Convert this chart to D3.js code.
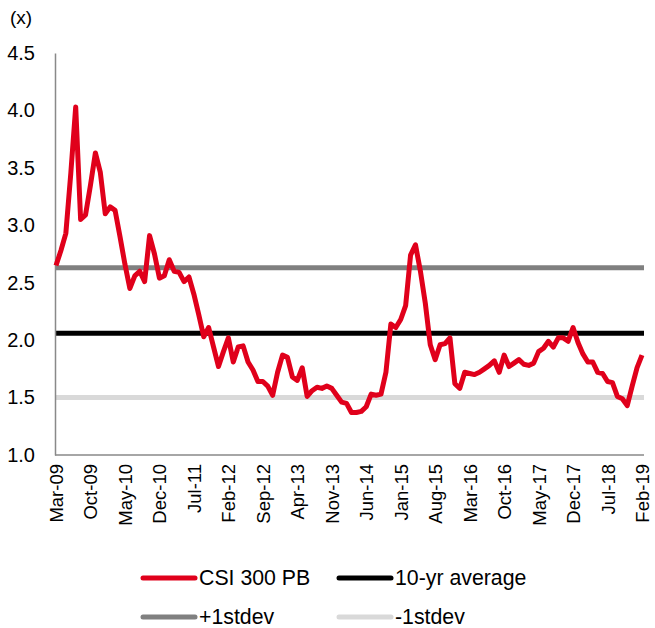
<!DOCTYPE html>
<html><head><meta charset="utf-8">
<script src="https://cdn.jsdelivr.net/npm/d3@7"></script>
<style>body{margin:0;background:#fff}svg{display:block}text{font-family:"Liberation Sans",Arial,sans-serif;fill:#000}</style>
</head><body><svg id="c" width="655" height="628"></svg>
<script>
const months = ["Jan","Feb","Mar","Apr","May","Jun","Jul","Aug","Sep","Oct","Nov","Dec"];
// 120 monthly observations, Mar-09 .. Feb-19
const categories = d3.range(120).map(i => {
  const m = (2 + i) % 12, y = 9 + Math.floor((2 + i) / 12);
  return months[m] + "-" + String(y).padStart(2, "0");
});
const csiPB = [
  2.65,2.78,2.93,3.45,4.03,3.05,3.09,3.35,3.63,3.46,3.10,3.16,3.13,2.90,2.66,2.45,2.56,2.60,2.51,2.91,
  2.75,2.54,2.56,2.70,2.60,2.59,2.51,2.55,2.40,2.22,2.03,2.11,1.94,1.77,1.90,2.02,1.81,1.94,1.95,1.81,
  1.74,1.64,1.64,1.60,1.52,1.72,1.87,1.85,1.68,1.65,1.76,1.51,1.56,1.59,1.58,1.60,1.58,1.52,1.46,1.45,
  1.37,1.37,1.38,1.42,1.53,1.52,1.53,1.72,2.14,2.11,2.18,2.30,2.74,2.83,2.60,2.32,1.96,1.83,1.96,1.97,
  2.02,1.62,1.58,1.72,1.71,1.70,1.72,1.75,1.78,1.82,1.72,1.87,1.77,1.80,1.83,1.79,1.78,1.80,1.90,1.93,
  1.99,1.94,2.02,2.02,1.99,2.11,1.98,1.88,1.81,1.81,1.72,1.71,1.64,1.63,1.51,1.49,1.43,1.60,1.76,1.87
];
const avg10 = 2.06, plus1 = 2.63, minus1 = 1.50;
const yTicks = [1.0,1.5,2.0,2.5,3.0,3.5,4.0,4.5];
const xTickLabels = categories.filter((d, i) => i % 7 === 0);
const seriesNames = ["CSI 300 PB","10-yr average","+1stdev","-1stdev"];
const seriesColors = ["#E0001B","#000000","#808080","#D9D9D9"];

const svg = d3.select("#c");
const L = 55, R = 644, T = 53, B = 455;
const x = d3.scalePoint().domain(categories).range([L + 1, R - 2]);
const y = d3.scaleLinear().domain([1.0, 4.5]).range([B, T]);

// reference lines
[[plus1,2],[avg10,1],[minus1,3]].forEach(([v,ci]) => {
  svg.append("line").attr("x1", L).attr("x2", R).attr("y1", y(v)).attr("y2", y(v))
    .attr("stroke", seriesColors[ci]).attr("stroke-width", 5);
});

// axes
const yAxis = svg.append("g").attr("transform", `translate(${L},0)`)
  .call(d3.axisLeft(y).tickValues(yTicks).tickFormat(d3.format(".1f")).tickSize(0).tickPadding(20));
yAxis.select(".domain").attr("stroke", "#898989").attr("stroke-width", 1.5);
yAxis.selectAll("text").attr("font-size", 20).style("font-family", '"Liberation Sans",Arial,sans-serif').attr("fill", "#000");

const xAxis = svg.append("g").attr("transform", `translate(0,${B})`)
  .call(d3.axisBottom(x).tickValues(xTickLabels).tickSize(0));
xAxis.select(".domain").attr("stroke", "#898989").attr("stroke-width", 1.5).attr("d", `M${L},0H${R}`);
xAxis.selectAll("text").attr("font-size", 18.5).style("font-family", '"Liberation Sans",Arial,sans-serif').attr("fill", "#000")
  .attr("transform", "rotate(-90)").attr("text-anchor", "end").attr("x", -9).attr("y", 0).attr("dy", "0.35em");

// main series
svg.append("path").datum(csiPB)
  .attr("fill", "none").attr("stroke", seriesColors[0]).attr("stroke-width", 5)
  .attr("stroke-linejoin", "round")
  .attr("d", d3.line().x((d, i) => x(categories[i])).y(d => y(d)));

svg.append("text").attr("x", 10).attr("y", 24).attr("font-size", 19).text("(x)");

// legend
const leg = [[141, 578], [337, 578], [141, 617], [337, 617]];
seriesNames.forEach((n, i) => {
  const [lx, ly] = leg[i];
  svg.append("line").attr("x1", lx + 2).attr("x2", lx + 54).attr("y1", ly).attr("y2", ly)
    .attr("stroke", seriesColors[i]).attr("stroke-width", 5).attr("stroke-linecap", "round");
  svg.append("text").attr("x", lx + 58).attr("y", ly).attr("dy", "0.35em").attr("font-size", 21.3).text(n);
});
</script></body></html>
